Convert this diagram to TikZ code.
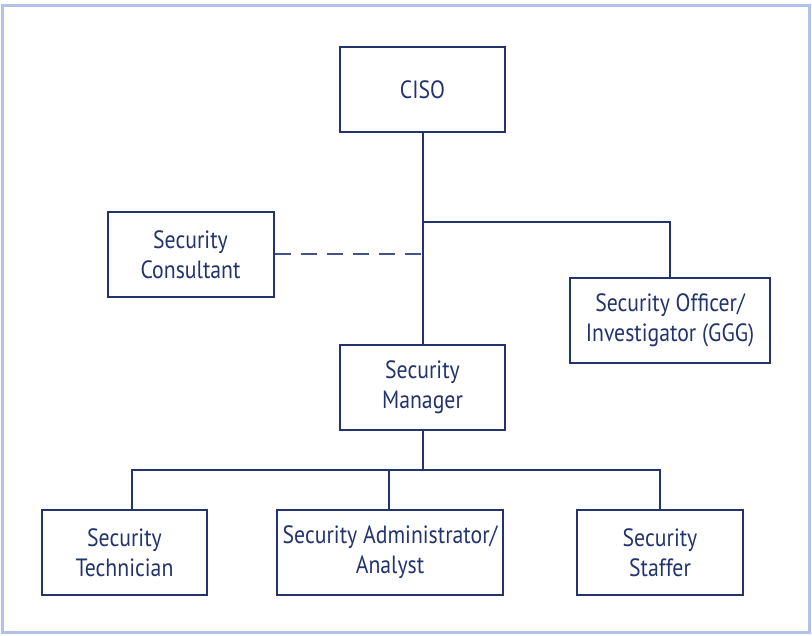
\documentclass[tikz,border=0pt]{standalone}
\usepackage{fontspec}
\setmainfont[FakeStretch=0.87]{PT Sans}
\definecolor{navy}{HTML}{22336E}
\definecolor{frame}{HTML}{B3C1EA}
\tikzset{
  role/.style={draw=navy, line width=2pt, text=navy, align=center,
    minimum height=85pt, inner sep=2pt, font=\fontsize{25}{30}\selectfont},
}
\begin{document}
\begin{tikzpicture}[x=1pt,y=-1pt]
      \useasboundingbox (0,0) rectangle (812,636);
      \draw[frame, line width=3pt] (2,5.5) rectangle (809,632);
      \draw
        (422.5,89.5) node[role, minimum width=165pt] (ciso){CISO}
        (190.5,254.5) node[role, minimum width=166pt] (cons){Security\\Consultant}
        (670,320.5) node[role, minimum width=200pt] (off){Security Officer/\\Investigator (GGG)}
        (422.5,387.5) node[role, minimum width=165pt] (mgr){Security\\Manager}
        (124.5,552.5) node[role, minimum width=165pt] (tech){Security\\Technician}
        (390,552.5) node[role, minimum width=226pt] (adm){Security Administrator/\\Analyst}
        (660,552.5) node[role, minimum width=166pt] (staff){Security\\Staffer};
      \coordinate (split) at (422.5,222);
      \coordinate (bus) at (422.5,470);
      \begin{scope}[navy, line width=2pt]
        \draw (ciso) -- (mgr);
        \draw (split) -| (off);
        \draw[dash pattern=on 16pt off 10pt, navy!85!white] (cons) -- (cons -| split);
        \draw (mgr) -- (bus);
        \draw (bus) -| ([xshift=7.5pt]tech.north);
        \draw (bus) -| ([xshift=-1pt]adm.north);
        \draw (bus) -| (staff);
      \end{scope}
    \end{tikzpicture}
\end{document}
